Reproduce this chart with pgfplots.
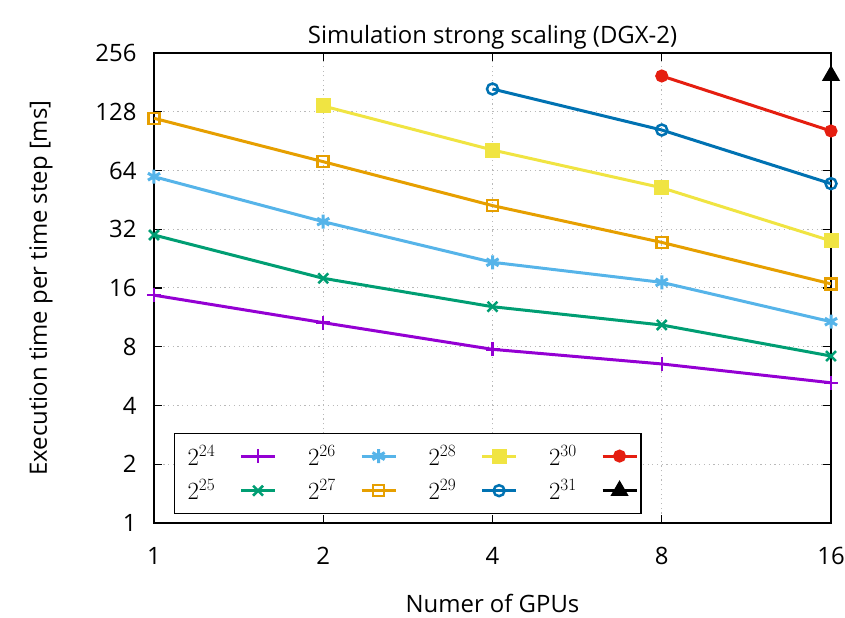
\documentclass[border=0pt]{standalone}
\usepackage{fontspec}
\setmainfont{Open Sans}
\usepackage{pgfplots}
\pgfplotsset{compat=1.18}
\definecolor{cA}{HTML}{9400D3}
\definecolor{cB}{HTML}{009E73}
\definecolor{cC}{HTML}{56B4E9}
\definecolor{cD}{HTML}{E69F00}
\definecolor{cE}{HTML}{F0E442}
\definecolor{cF}{HTML}{0072B2}
\definecolor{cG}{HTML}{E51E10}
\newcommand{\LE}[1]{\makebox[49bp][l]{$2^{#1}$}}
\newcommand{\LF}[1]{\makebox[56bp][l]{\hspace*{7bp}$2^{#1}$}}
\pgfplotsset{
  lastimg/.style={legend image code/.code={\draw[mark repeat=2,mark phase=2] plot coordinates {(0bp,0bp) (17bp,0bp) (34bp,0bp)};}},
}
\begin{document}
\begin{tikzpicture}
\begin{axis}[
  name=ax, at={(0,0)}, anchor=south west,
  scale only axis, width=677bp, height=470bp,
  font=\fontsize{24}{28}\selectfont,
  xmode=log, ymode=log, log basis x=2, log basis y=2,
  xmin=1, xmax=16, ymin=1, ymax=256,
  xtick={1,2,4,8,16}, xticklabels={1,2,4,8,16},
  ytick={1,2,4,8,16,32,64,128,256}, yticklabels={1,2,4,8,16,32,64,128,256},
  minor xtick={}, minor ytick={},
  grid=major, major grid style={dash pattern=on 1.2bp off 3.5bp, gray!55, line width=1bp},
  tick align=inside, major tick length=8bp, tick style={black, line width=1.2bp},
  axis line style={line width=1.4bp},
  xticklabel style={yshift=-21bp},
  yticklabel style={xshift=-14bp},
  title={Simulation strong scaling (DGX-2)},
  title style={yshift=-6bp},
  xlabel={Numer of GPUs}, ylabel={Execution time per time step [ms]},
  xlabel style={yshift=-22bp}, ylabel style={yshift=36bp},
  legend plot pos=right,
  legend columns=2, transpose legend,
  legend image code/.code={\draw[mark repeat=2,mark phase=2] plot coordinates {(0bp,0bp) (17bp,0bp) (34bp,0bp)};\pgfpathmoveto{\pgfqpoint{64bp}{0bp}}\pgfusepath{discard}},
  legend style={at={(0.0295,0.019)}, anchor=south west, draw=black, line width=1.2bp,
    inner xsep=3bp, inner ysep=9bp, row sep=7bp, column sep=0bp,
    nodes={inner sep=3bp},
    /tikz/every odd column/.style={},
    /tikz/every even column/.style={}},
  every axis plot/.append style={line width=3bp},
]
\addplot[cA, mark=+, mark size=7bp, mark options={line width=2.5bp}] coordinates {(1,14.7) (2,10.63) (4,7.76) (8,6.53) (16,5.23)};
\addlegendentry{\LF{24}}
\addplot[cB, mark=x, mark size=7bp, mark options={line width=2.5bp}] coordinates {(1,29.9) (2,17.94) (4,12.83) (8,10.34) (16,7.17)};
\addlegendentry{\LF{25}}
\addplot[cC, mark=asterisk, mark size=7bp, mark options={line width=3bp}] coordinates {(1,59.5) (2,35.0) (4,21.67) (8,17.1) (16,10.75)};
\addlegendentry{\LE{26}}
\addplot[cD, mark=square, mark size=5.5bp, mark options={line width=2.5bp}] coordinates {(1,118.5) (2,71.0) (4,42.3) (8,27.4) (16,16.8)};
\addlegendentry{\LE{27}}
\addplot[cE, mark=square*, mark size=6bp] coordinates {(2,137) (4,81.5) (8,52.2) (16,27.9)};
\addlegendentry{\LE{28}}
\addplot[cF, mark=o, mark size=5.5bp, mark options={line width=2.5bp}] coordinates {(4,167.4) (8,103.2) (16,54.8)};
\addlegendentry{\LE{29}}
\addplot[cG, mark=*, mark size=5bp, lastimg] coordinates {(8,195.2) (16,102)};
\addlegendentry{\LE{30}}
\addplot[black, mark=triangle*, mark size=7.5bp, lastimg] coordinates {(16,196)};
\addlegendentry{\LE{31}}
\end{axis}
\pgfresetboundingbox
\path ([shift={(-154bp,-95bp)}]ax.south west) rectangle ([shift={(14bp,53bp)}]ax.north east);
\end{tikzpicture}
\end{document}
